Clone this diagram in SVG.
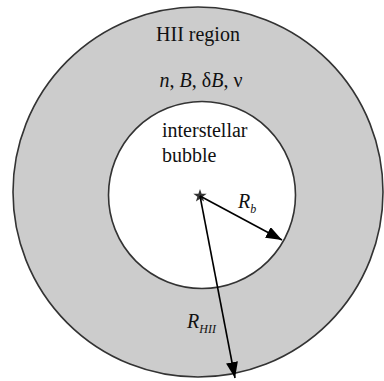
<svg xmlns="http://www.w3.org/2000/svg" width="384" height="381" viewBox="0 0 384 381">
<defs>
<style>
.t{font-family:"Liberation Serif","Times New Roman",serif;font-size:20px;fill:#111}
.i{font-style:italic}
.sub{font-size:12px;font-style:italic}
.ring{stroke:#333;stroke-width:1.6}
.arr{stroke:#000;stroke-width:1.6;fill:none}
</style>
<marker id="ah" markerUnits="userSpaceOnUse" markerWidth="17" markerHeight="12" refX="16" refY="6" orient="auto">
<path d="M0,0 L16,6 L0,12 z" fill="#000"/>
</marker>
</defs>
<g id="hii-region">
<circle class="ring" cx="198" cy="192" r="185" fill="#cccccc"/>
<text class="t" x="198" y="41" text-anchor="middle">HII region</text>
<text class="t" x="201" y="87" text-anchor="middle"><tspan class="i">n</tspan>, <tspan class="i">B</tspan>, δ<tspan class="i">B</tspan>, ν</text>
</g>
<g id="bubble">
<circle class="ring" cx="202" cy="195" r="93.5" fill="#ffffff"/>
<text class="t" x="162" y="137">interstellar</text>
<text class="t" x="162" y="162">bubble</text>
</g>
<g id="star">
<path d="M200,189 L201.6,193.8 L206.7,193.8 L202.6,196.8 L204.1,201.6 L200,198.7 L195.9,201.6 L197.4,196.8 L193.3,193.8 L198.4,193.8 Z" fill="#333"/>
</g>
<g id="connectors">
<line class="arr" x1="200" y1="196" x2="282" y2="240" marker-end="url(#ah)"/>
<line class="arr" x1="200" y1="196" x2="235" y2="378" marker-end="url(#ah)"/>
</g>
<g id="labels">
<text class="t i" x="238" y="208">R<tspan class="sub" dy="5">b</tspan></text>
<text class="t i" x="187" y="328">R<tspan class="sub" dy="5">HII</tspan></text>
</g>
</svg>
